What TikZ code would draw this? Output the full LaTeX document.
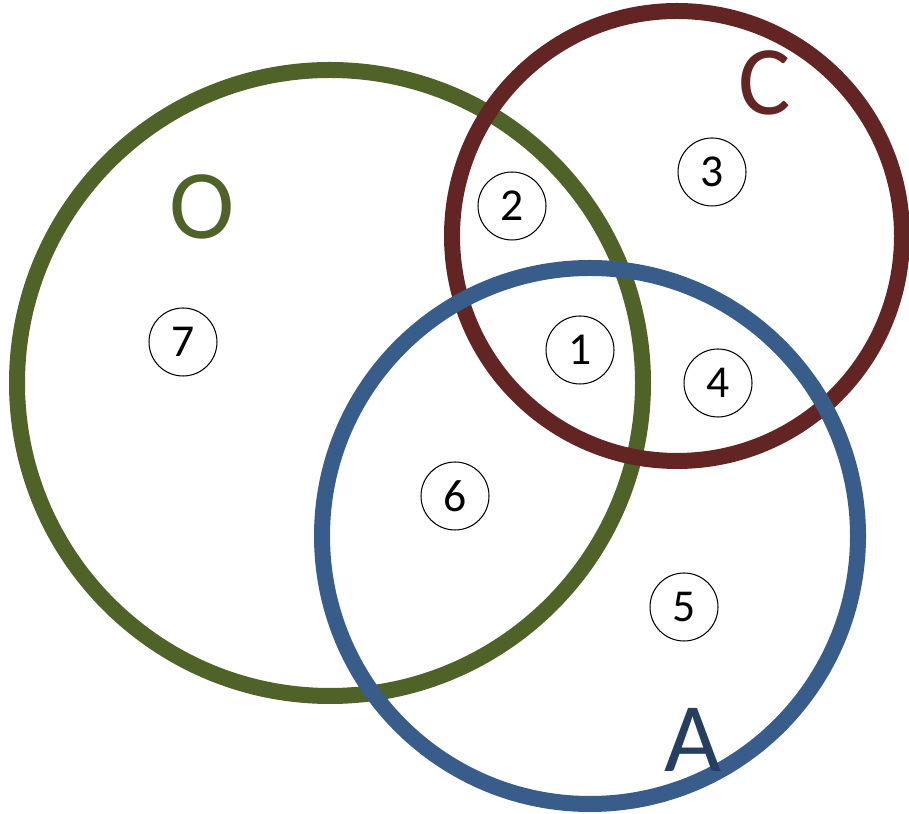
\documentclass[tikz,border=0pt]{standalone}
\usepackage{fontspec}
\setmainfont{Carlito}
\definecolor{setgreen}{HTML}{4F6228}
\definecolor{setred}{HTML}{632523}
\definecolor{setblue}{HTML}{385D8A}
\definecolor{labelblue}{HTML}{243F60}

\begin{document}
\begin{tikzpicture}[x=0.02cm,y=0.02cm,
		ring/.style={line width=0.32cm},
		region/.style={circle,draw,line width=0.6pt,minimum size=1.36cm,inner sep=0pt,font=\fontsize{26}{30}\selectfont},
		setname/.style={font=\fontsize{56}{60}\selectfont}]
				\useasboundingbox (0,0) rectangle (909,814);
				\draw[ring,setgreen] (330,431) circle (313);
				\draw[ring,setred] (677,578) circle (225);
				\draw[ring,setblue] (590,278) circle (268);
				
				\foreach \i/\x/\y in {1/580/464,2/512/608,3/712/642,4/718/431,5/684/207,6/455/318,7/183/472}{
					\node[region] (r\i) at (\x,\y) {\i};
				}
			
			\node[setname,text=setgreen] (setO) at (202,607) {O};
			\node[setname,text=setred] (setC) at (765,731) {C};
			\node[setname,text=labelblue] (setA) at (693,74) {A};
			
			\end{tikzpicture}
\end{document}
